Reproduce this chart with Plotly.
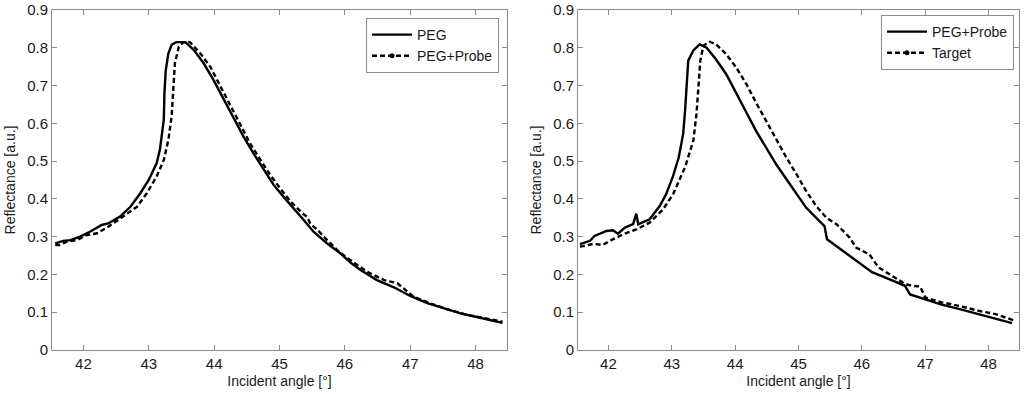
import plotly.graph_objects as go

# Left panel: PEG (solid) and PEG+Probe (dashed)
peg_x = [41.57, 41.69, 41.80, 41.95, 42.10, 42.28, 42.38, 42.56, 42.72, 42.87, 43.00, 43.12, 43.17, 43.23,
         43.24, 43.26, 43.30, 43.35, 43.42, 43.56, 43.69, 43.84, 43.99, 44.14, 44.30, 44.45, 44.60, 44.76,
         44.91, 45.06, 45.22, 45.37, 45.52, 45.73, 45.93, 46.09, 46.24, 46.49, 46.75, 47.00, 47.26, 47.52,
         47.77, 48.00, 48.23, 48.41]
peg_y = [0.282, 0.289, 0.291, 0.300, 0.313, 0.331, 0.335, 0.353, 0.379, 0.415, 0.450, 0.494, 0.530, 0.610,
         0.680, 0.740, 0.785, 0.808, 0.815, 0.815, 0.794, 0.759, 0.715, 0.666, 0.613, 0.565, 0.521, 0.476,
         0.437, 0.406, 0.375, 0.344, 0.313, 0.282, 0.256, 0.231, 0.212, 0.185, 0.166, 0.143, 0.124, 0.110,
         0.097, 0.088, 0.079, 0.072]

pegprobe_x = [41.57, 41.64, 41.75, 41.90, 42.05, 42.21, 42.38, 42.61, 42.82, 42.97, 43.12, 43.23, 43.30, 43.35,
              43.38, 43.40, 43.46, 43.53, 43.63, 43.79, 43.94, 44.09, 44.25, 44.40, 44.55, 44.71, 44.86, 45.01,
              45.17, 45.35, 45.42, 45.47, 45.58, 45.73, 45.88, 46.01, 46.34, 46.60, 46.80, 46.90, 47.05, 47.30,
              47.56, 47.87, 48.13, 48.41]
pegprobe_y = [0.278, 0.278, 0.287, 0.291, 0.304, 0.309, 0.326, 0.353, 0.379, 0.415, 0.459, 0.503, 0.556, 0.618,
              0.688, 0.759, 0.803, 0.815, 0.815, 0.785, 0.750, 0.701, 0.648, 0.596, 0.547, 0.503, 0.463, 0.428,
              0.393, 0.362, 0.353, 0.335, 0.318, 0.291, 0.265, 0.247, 0.207, 0.185, 0.177, 0.163, 0.141, 0.124,
              0.108, 0.093, 0.084, 0.075]

# Right panel: PEG+Probe (solid) and Target (dashed)
probe2_x = [41.55, 41.71, 41.78, 41.97, 42.07, 42.15, 42.26, 42.39, 42.44, 42.47, 42.65, 42.81, 42.91, 43.02,
            43.11, 43.18, 43.21, 43.24, 43.26, 43.34, 43.44, 43.55, 43.70, 43.86, 44.02, 44.18, 44.33, 44.49,
            44.65, 44.81, 44.97, 45.12, 45.28, 45.41, 45.45, 45.60, 45.81, 46.07, 46.16, 46.42, 46.68, 46.76,
            47.00, 47.26, 47.53, 47.84, 48.11, 48.37]
probe2_y = [0.280, 0.289, 0.302, 0.315, 0.317, 0.308, 0.324, 0.333, 0.361, 0.333, 0.346, 0.381, 0.412, 0.460,
            0.510, 0.572, 0.634, 0.704, 0.766, 0.793, 0.809, 0.800, 0.769, 0.730, 0.677, 0.628, 0.580, 0.535,
            0.491, 0.452, 0.412, 0.377, 0.350, 0.328, 0.293, 0.275, 0.249, 0.218, 0.206, 0.188, 0.170, 0.147,
            0.135, 0.120, 0.109, 0.095, 0.082, 0.071]

target_x = [41.55, 41.60, 41.76, 41.91, 42.07, 42.23, 42.44, 42.65, 42.86, 43.02, 43.21, 43.34, 43.39, 43.42,
            43.45, 43.50, 43.60, 43.70, 43.86, 44.02, 44.18, 44.33, 44.49, 44.65, 44.81, 44.97, 45.12, 45.28,
            45.44, 45.60, 45.81, 45.91, 46.12, 46.26, 46.53, 46.68, 46.79, 46.92, 47.00, 47.26, 47.53, 47.84,
            48.11, 48.39]
target_y = [0.274, 0.275, 0.281, 0.278, 0.293, 0.306, 0.319, 0.337, 0.372, 0.412, 0.484, 0.554, 0.625, 0.704,
            0.766, 0.806, 0.816, 0.809, 0.783, 0.747, 0.703, 0.655, 0.606, 0.558, 0.509, 0.465, 0.421, 0.381,
            0.350, 0.333, 0.297, 0.271, 0.253, 0.219, 0.192, 0.175, 0.170, 0.168, 0.139, 0.126, 0.117, 0.104,
            0.095, 0.079]

x_ticks = [42, 43, 44, 45, 46, 47, 48]
y_ticks = [0, 0.1, 0.2, 0.3, 0.4, 0.5, 0.6, 0.7, 0.8, 0.9]
y_ticktext = ["0", "0.1", "0.2", "0.3", "0.4", "0.5", "0.6", "0.7", "0.8", "0.9"]

FONT = "Liberation Sans, Arial, sans-serif"
TXT = "#1a1a1a"
GRAY = "#8c8c8c"
LINE_W = 2.4
DASH = "5px,3px"

W, H = 1024, 394
ML, MT = 52, 10
MR = W - 1019
MB = H - 350
PW, PH = W - ML - MR, H - MT - MB

fig = go.Figure()


def add_pair(xs, ys, xd, yd, name_s, name_d, xa, ya, legend):
    fig.add_trace(go.Scatter(x=xs, y=ys, mode="lines", name=name_s, xaxis=xa, yaxis=ya,
                             line=dict(color="black", width=LINE_W), legend=legend))
    fig.add_trace(go.Scatter(x=xd, y=yd, mode="lines", name=name_d, xaxis=xa, yaxis=ya, showlegend=False,
                             line=dict(color="black", width=LINE_W, dash=DASH), legend=legend))
    # legend-only entry: dashed sample with a dot in the middle
    fig.add_trace(go.Scatter(x=[None], y=[None], mode="lines+markers", name=name_d, xaxis=xa, yaxis=ya,
                             line=dict(color="black", width=LINE_W, dash=DASH),
                             marker=dict(color="black", size=5), legend=legend))


add_pair(peg_x, peg_y, pegprobe_x, pegprobe_y, "PEG", "PEG+Probe", "x", "y", "legend")
add_pair(probe2_x, probe2_y, target_x, target_y, "PEG+Probe", "Target", "x2", "y2", "legend2")

axis_common = dict(showline=True, linecolor=GRAY, linewidth=1, mirror="ticks",
                   ticks="inside", ticklen=5, tickcolor=GRAY, showgrid=False, zeroline=False,
                   automargin=False, ticklabeloverflow="allow",
                   tickfont=dict(family=FONT, size=15, color=TXT))

xa_common = dict(axis_common, range=[41.52, 48.48], tickvals=x_ticks,
                 title=dict(text="Incident angle [°]", font=dict(family=FONT, size=14, color=TXT), standoff=5))
ya_common = dict(axis_common, range=[0, 0.9], tickvals=y_ticks, ticktext=y_ticktext,
                 title=dict(text="Reflectance [a.u.]", font=dict(family=FONT, size=14, color=TXT), standoff=8))

legend_common = dict(bgcolor="white", bordercolor=GRAY, borderwidth=1,
                     font=dict(family=FONT, size=14, color=TXT), xanchor="right", yanchor="top",
                     tracegroupgap=0, itemwidth=40)


def px_x(p):
    return (p - ML) / PW


def px_y(p):
    return (H - MB - p) / PH


fig.update_layout(
    width=W, height=H,
    margin=dict(l=ML, r=MR, t=MT, b=MB, autoexpand=False),
    paper_bgcolor="white", plot_bgcolor="white",
    font=dict(family=FONT, color=TXT),
    hovermode=False,
    xaxis=dict(xa_common, domain=[px_x(52), px_x(507)], anchor="y"),
    yaxis=dict(ya_common, domain=[0, 1], anchor="x"),
    xaxis2=dict(xa_common, domain=[px_x(578), px_x(1019)], anchor="y2"),
    yaxis2=dict(ya_common, domain=[0, 1], anchor="x2"),
    legend=dict(legend_common, x=px_x(499), y=px_y(18)),
    legend2=dict(legend_common, x=px_x(1014), y=px_y(15)),
)

# remove the page's default 8px body margin so the figure sits at the window's corner
fig.write_html("out.html", config={"displayModeBar": False},
               post_script="document.body.style.margin='0';")
